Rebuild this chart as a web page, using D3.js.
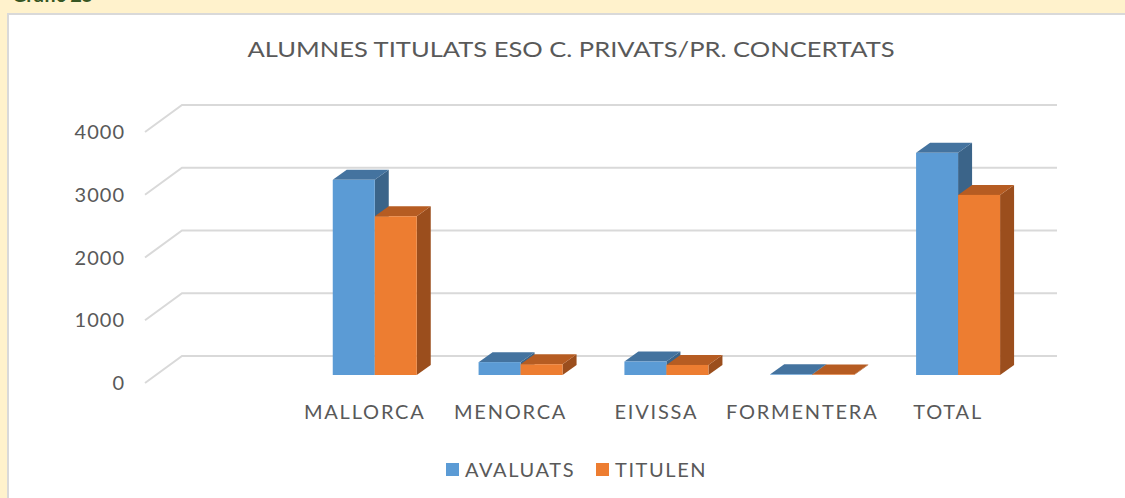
<!DOCTYPE html>
<html>
<head>
<meta charset="utf-8">
<script src="https://cdnjs.cloudflare.com/ajax/libs/d3/7.8.5/d3.min.js"></script>
<style>
  body { margin: 0; background: #fff2cc; overflow: hidden; }
  text { font-family: Lato, "Open Sans", sans-serif; }
</style>
</head>
<body>
<div id="chart"></div>
<script>
// data (first category is an empty spacer in the original)
var categories = ["", "MALLORCA", "MENORCA", "EIVISSA", "FORMENTERA", "TOTAL"];
var seriesNames = ["AVALUATS", "TITULEN"];
var avaluats = [null, 3110, 205, 215, 10, 3540];
var titulen = [null, 2530, 172, 160, 8, 2870];
var yTicks = [0, 1000, 2000, 3000, 4000];

var width = 1125,
    height = 498;

var colors = {
  AVALUATS: { front: "#5b9bd5", top: "#44739f", side: "#3b6489" },
  TITULEN: { front: "#ed7d31", top: "#b65c22", side: "#9b4e1d" }
};

// depth offsets of the 3d look
var wallDx = 37, wallDy = -27;
var barDx = 11, barDy = -8;
var depthDx = 14, depthDy = -10;

var svg = d3.select("#chart")
  .append("svg")
  .attr("width", width)
  .attr("height", height);

svg.append("rect")
  .attr("width", width)
  .attr("height", height)
  .attr("fill", "#fff2cc");

// caption, cut off at the top like in the original
svg.append("text")
  .attr("x", 12)
  .attr("y", 2)
  .style("font-size", "20px")
  .style("font-weight", "bold")
  .style("fill", "#375623")
  .text("Gràfic 25");

svg.append("rect")
  .attr("x", 8)
  .attr("y", 14)
  .attr("width", width + 10)
  .attr("height", height)
  .attr("fill", "#ffffff")
  .attr("stroke", "#d9d9d9")
  .attr("stroke-width", 2);

var x = d3.scaleBand()
  .domain(categories)
  .range([145, 1020])
  .paddingInner(0.424)
  .paddingOuter(0.212);

var xSeries = d3.scaleBand()
  .domain(seriesNames)
  .range([0, x.bandwidth()]);

var y = d3.scaleLinear()
  .domain([0, 4000])
  .range([383, 132]);

// gridlines: floor diagonal + back wall
svg.append("g")
  .selectAll("path")
  .data(yTicks)
  .enter().append("path")
  .attr("d", function(d) {
    return "M" + x.range()[0] + "," + y(d) +
      "L" + (x.range()[0] + wallDx) + "," + (y(d) + wallDy) +
      "L" + (x.range()[1] + wallDx) + "," + (y(d) + wallDy);
  })
  .attr("fill", "none")
  .attr("stroke", "#d9d9d9")
  .attr("stroke-width", 2);

// y labels
svg.append("g")
  .selectAll("text")
  .data(yTicks)
  .enter().append("text")
  .attr("x", 125)
  .attr("y", function(d) { return y(d); })
  .attr("dy", "0.36em")
  .attr("text-anchor", "end")
  .style("font-size", "20px")
  .style("letter-spacing", "1px")
  .style("fill", "#595959")
  .text(function(d) { return d; });

var rows = [];
categories.forEach(function(c, i) {
  if (avaluats[i] !== null) rows.push({ cat: c, key: "AVALUATS", value: avaluats[i] });
  if (titulen[i] !== null) rows.push({ cat: c, key: "TITULEN", value: titulen[i] });
});

var bars = svg.append("g")
  .selectAll("g")
  .data(rows)
  .enter().append("g");

function pts(a) {
  return a.map(function(p) { return p.join(","); }).join(" ");
}

bars.each(function(d) {
  var g = d3.select(this);
  var x0 = x(d.cat) + xSeries(d.key) + barDx,
      x1 = x0 + xSeries.bandwidth(),
      yb = y(0) + barDy,
      yt = y(d.value) + barDy;

  g.append("polygon")
    .attr("points", pts([[x1, yt], [x1 + depthDx, yt + depthDy], [x1 + depthDx, yb + depthDy], [x1, yb]]))
    .attr("fill", colors[d.key].side);
  g.append("polygon")
    .attr("points", pts([[x0, yt], [x0 + depthDx, yt + depthDy], [x1 + depthDx, yt + depthDy], [x1, yt]]))
    .attr("fill", colors[d.key].top);
  g.append("rect")
    .attr("x", x0)
    .attr("y", yt)
    .attr("width", x1 - x0)
    .attr("height", yb - yt)
    .attr("fill", colors[d.key].front);
});

// category labels
svg.append("g")
  .selectAll("text")
  .data(categories.filter(function(c) { return c !== ""; }))
  .enter().append("text")
  .attr("x", function(d) { return x(d) + x.bandwidth() / 2 + 1; })
  .attr("y", 419)
  .attr("text-anchor", "middle")
  .style("font-size", "20px")
  .style("letter-spacing", "1.8px")
  .style("fill", "#595959")
  .text(function(d) { return d; });

// title
svg.append("text")
  .attr("x", 571)
  .attr("y", 57)
  .attr("text-anchor", "middle")
  .attr("textLength", 647)
  .attr("lengthAdjust", "spacingAndGlyphs")
  .style("font-size", "21px")
  .style("fill", "#595959")
  .text("ALUMNES TITULATS ESO C. PRIVATS/PR. CONCERTATS");

// legend
var legendX = [446, 596];
var legend = svg.append("g")
  .selectAll("g")
  .data(seriesNames)
  .enter().append("g")
  .attr("transform", function(d, i) { return "translate(" + legendX[i] + ",463)"; });

legend.append("rect")
  .attr("width", 13)
  .attr("height", 13)
  .attr("fill", function(d) { return colors[d].front; });

legend.append("text")
  .attr("x", 19)
  .attr("y", 14)
  .style("font-size", "20px")
  .style("letter-spacing", "1.6px")
  .style("fill", "#595959")
  .text(function(d) { return d; });
</script>
</body>
</html>
